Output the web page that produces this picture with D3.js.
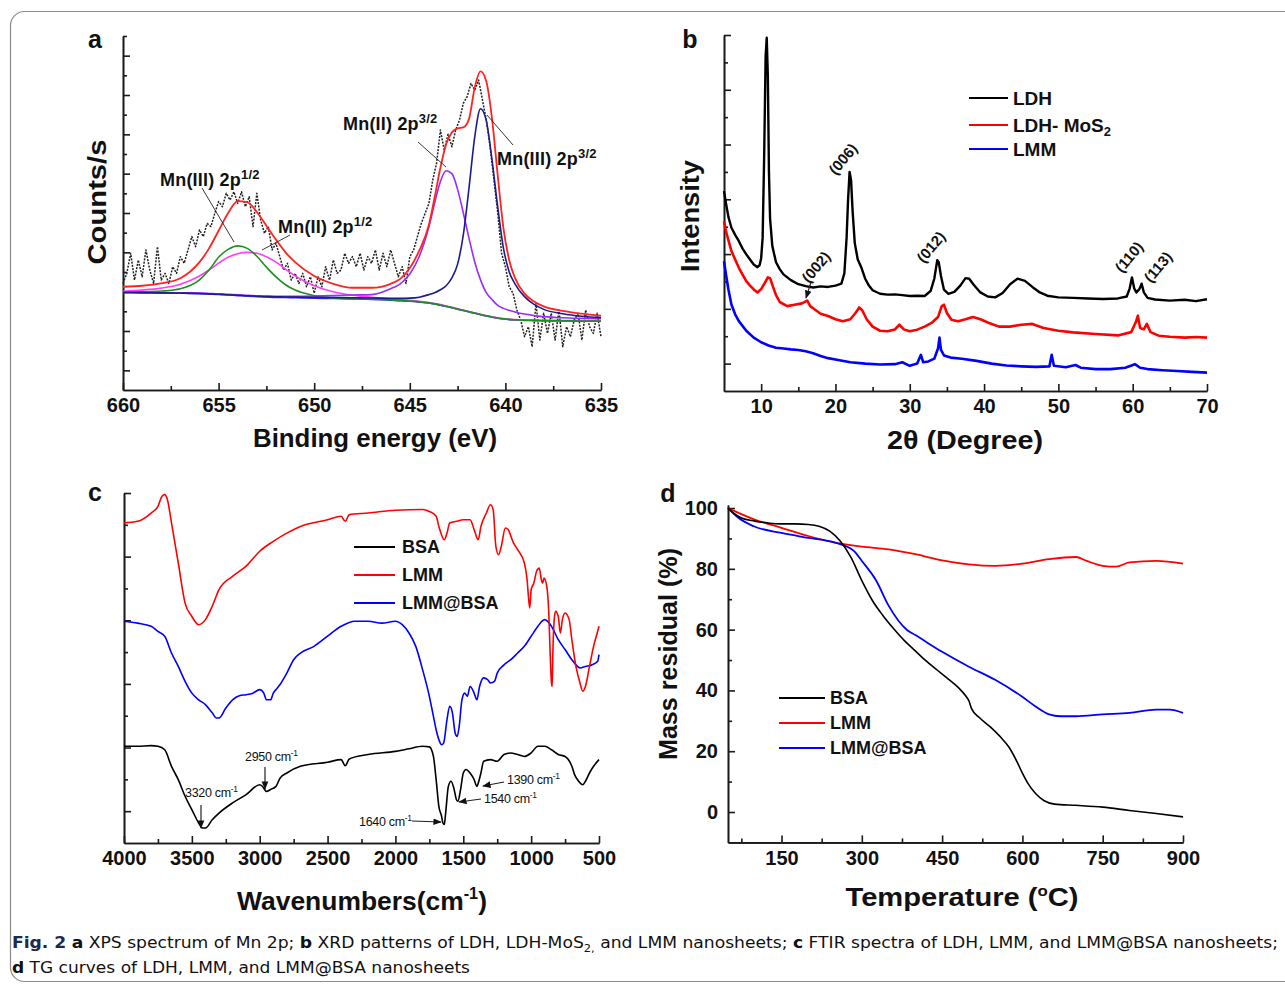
<!DOCTYPE html>
<html>
<head>
<meta charset="utf-8">
<script src="https://cdnjs.cloudflare.com/ajax/libs/d3/7.8.5/d3.min.js"></script>
<style>
  body { margin: 0; background: #fff; }
  svg text { font-family: "Liberation Sans", Arial, Helvetica, sans-serif; fill: #111; }
  .axis path, .axis line { stroke: #1a1a1a; stroke-width: 1.6; }
  .axis text { font-size: 20px; font-weight: bold; fill: #111; font-family: "Liberation Sans", Arial, sans-serif; }
</style>
</head>
<body>
<svg id="fig" width="1285" height="985"></svg>
<script>
// ---------------- data: (a) XPS Mn 2p ----------------
var xpsRawE = [660.0,659.8,659.6,659.4,659.2,659.0,658.8,658.6,658.4,658.2,658.0,657.8,657.6,657.4,657.2,657.0,656.8,656.6,656.4,656.2,
  656.0,655.8,655.6,655.4,655.2,655.0,654.8,654.6,654.4,654.2,654.0,653.8,653.6,653.4,653.2,653.0,652.8,652.6,652.4,652.2,
  652.0,651.8,651.6,651.4,651.2,651.0,650.8,650.6,650.4,650.2,650.0,649.8,649.6,649.4,649.2,649.0,648.8,648.6,648.4,648.2,
  648.0,647.8,647.6,647.4,647.2,647.0,646.8,646.6,646.4,646.2,646.0,645.8,645.6,645.4,645.2,645.0,644.8,644.6,644.4,644.2,
  644.0,643.8,643.6,643.4,643.2,643.0,642.8,642.6,642.4,642.2,642.0,641.8,641.6,641.4,641.2,641.0,640.8,640.6,640.4,640.2,
  640.0,639.8,639.6,639.4,639.2,639.0,638.8,638.6,638.4,638.2,638.0,637.8,637.6,637.4,637.2,637.0,636.8,636.6,636.4,636.2,
  636.0,635.8,635.6,635.4,635.2,635.0];
var xpsRaw = [5.42,5.93,6.95,5.59,6.61,5.76,7.12,6.10,5.42,7.29,5.59,5.93,5.42,6.27,5.93,6.78,6.44,7.12,7.80,7.29,
  8.14,7.80,8.47,8.31,8.98,9.58,9.32,10.0,9.66,10.08,9.49,10.08,9.32,9.83,8.31,10.0,8.64,7.97,8.31,7.12,
  7.46,6.78,6.10,6.44,5.59,5.93,5.42,5.93,5.25,5.76,4.92,5.76,5.25,6.27,5.59,6.61,5.93,6.10,6.95,6.44,
  6.78,6.27,6.95,6.10,6.78,6.44,7.12,6.10,6.95,6.27,7.12,6.44,5.76,6.27,5.42,6.78,7.12,7.80,8.47,8.98,
  9.49,10.68,11.53,13.22,12.2,13.0,12.37,13.22,13.73,14.58,14.92,15.59,15.25,15.76,14.75,13.73,12.37,10.68,9.0,6.95,
  6.27,5.25,4.92,4.07,3.56,2.71,3.22,2.20,4.41,2.54,3.9,2.88,3.9,2.54,4.07,2.20,3.22,2.71,3.56,3.9,
  2.54,4.07,3.22,2.88,3.9,2.71];

// fitted components, all read on one energy grid
var fitE = [660,659,658,657,656,655.5,655,654.5,654,653.5,653,652.5,652,651.5,651,650,649,648,647,646,645.5,645,644.5,644,
  643.7,643.4,643.1,642.8,642.5,642.2,641.9,641.6,641.3,641,640.7,640.4,640.1,639.8,639.5,639,638.5,638,637,636,635];
var fitBg = [4.95,4.94,4.93,4.92,4.9,4.88,4.86,4.83,4.8,4.77,4.75,4.73,4.71,4.7,4.69,4.67,4.65,4.63,4.61,4.57,4.54,4.51,4.47,4.42,
  4.37,4.31,4.25,4.18,4.11,4.04,3.97,3.9,3.83,3.76,3.7,3.65,3.61,3.58,3.56,3.54,3.53,3.52,3.51,3.5,3.5];
var fitMn3Half = [4.97,4.99,5.03,5.15,5.6,6.1,6.75,7.15,7.33,7.2,6.8,6.25,5.75,5.35,5.08,4.8,4.68,4.64,4.62,4.58,4.55,4.52,4.48,4.43,
  4.38,4.32,4.26,4.19,4.12,4.05,3.98,3.91,3.84,3.77,3.71,3.66,3.62,3.59,3.57,3.55,3.54,3.53,3.52,3.51,3.51];
var fitMn2Half = [5.02,5.08,5.18,5.38,5.8,6.1,6.45,6.75,6.93,7.0,6.95,6.78,6.5,6.15,5.8,5.3,5.0,4.82,4.72,4.64,4.6,4.56,4.51,4.45,
  4.4,4.34,4.27,4.2,4.13,4.06,3.99,3.92,3.85,3.78,3.72,3.67,3.63,3.6,3.58,3.56,3.55,3.54,3.53,3.52,3.52];
var fitMn2ThreeHalf = [4.97,4.96,4.95,4.94,4.93,4.91,4.89,4.86,4.84,4.81,4.79,4.78,4.77,4.77,4.77,4.78,4.8,4.83,4.85,5.15,5.4,5.9,6.8,8.3,
  9.5,10.6,11.15,11.0,10.2,9.0,7.7,6.5,5.6,4.95,4.6,4.3,4.15,4.05,3.97,3.86,3.78,3.73,3.67,3.64,3.62];
var fitMn3ThreeHalf = [4.96,4.95,4.94,4.93,4.91,4.89,4.87,4.84,4.82,4.79,4.77,4.75,4.74,4.73,4.72,4.71,4.7,4.69,4.68,4.66,4.66,4.67,4.72,4.85,
  4.95,5.1,5.3,5.7,6.4,7.9,10.3,12.9,14.3,13.7,11.7,9.3,7.2,6.0,5.4,4.75,4.35,4.1,3.88,3.75,3.68];
var fitEnvelope = [5.25,5.3,5.42,5.68,6.5,7.2,8.1,9.0,9.6,9.55,9.05,8.35,7.65,7.0,6.5,5.8,5.4,5.2,5.2,5.4,5.65,6.2,7.1,8.4,
  9.8,11.3,12.5,13.1,13.3,13.35,13.8,15.4,16.2,15.7,13.8,10.9,8.2,6.6,5.7,4.9,4.5,4.25,4.02,3.88,3.78];

// ---------------- data: (b) XRD, [2theta, intensity] ----------------
var xrdLdh = [[5,7.3],[5.3,6.8],[5.6,6.35],[6,5.96],[6.5,5.7],[7,5.47],[7.5,5.2],[8,4.99],[8.5,4.8],[9,4.62],[9.5,4.52],[9.8,4.6],
  [10,4.85],[10.2,5.6],[10.4,8.5],[10.6,12.2],[10.75,12.9],[10.9,11.5],[11.05,8.0],[11.2,6.3],[11.5,5.3],[12,4.7],[12.5,4.45],
  [13,4.26],[14,4.05],[15,3.9],[16,3.83],[17,3.78],[18,3.82],[19,3.8],[20,3.85],[20.8,3.92],[21.2,4.3],[21.5,5.6],[21.7,7.0],
  [21.9,8.0],[22.1,7.7],[22.3,6.6],[22.6,5.4],[23,4.8],[23.5,4.5],[24,4.1],[24.5,3.85],[25,3.68],[26,3.55],[27,3.52],[28,3.53],
  [29,3.5],[30,3.47],[31,3.48],[32,3.47],[32.8,3.65],[33.3,4.1],[33.7,4.78],[33.9,4.7],[34.2,4.2],[34.6,3.7],[35.2,3.55],
  [36,3.62],[36.8,3.85],[37.5,4.12],[38,4.1],[38.6,3.88],[39.5,3.6],[40.5,3.45],[41.5,3.42],[42.5,3.58],[43.5,3.9],[44.5,4.1],
  [45.5,4.02],[46.5,3.8],[47.5,3.6],[48.5,3.48],[50,3.42],[52,3.4],[54,3.38],[56,3.36],[58,3.38],[59.2,3.45],[59.6,3.75],
  [59.9,4.15],[60.2,3.75],[60.5,3.6],[60.9,3.72],[61.2,3.92],[61.5,3.6],[62,3.4],[63,3.34],[65,3.3],[67,3.33],[68.5,3.28],[70,3.35]];
var xrdLdhMos2 = [[5,6.2],[5.3,5.8],[5.6,5.5],[6,5.11],[6.5,4.8],[7,4.5],[7.5,4.25],[8,4.01],[8.5,3.85],[9,3.71],[9.5,3.6],
  [10,3.72],[10.5,3.95],[10.9,4.15],[11.2,4.12],[11.6,3.8],[12,3.5],[12.5,3.25],[13.5,3.1],[14.5,3.15],[15.5,3.2],[16.2,3.3],
  [16.6,3.1],[17,3.02],[18,2.82],[19,2.74],[20,2.62],[21,2.55],[22,2.62],[22.7,2.85],[23.2,3.05],[23.6,2.95],[24.2,2.62],
  [25,2.35],[26,2.2],[27,2.18],[28,2.25],[28.6,2.42],[29.2,2.25],[30,2.18],[31,2.24],[32,2.35],[33,2.5],[33.8,2.7],[34.3,3.1],
  [34.6,3.15],[35,2.85],[35.6,2.6],[36.5,2.55],[37.5,2.62],[38.5,2.7],[39.5,2.62],[40.5,2.5],[42,2.35],[43.5,2.35],[45,2.42],
  [46.5,2.45],[48,2.3],[50,2.2],[52,2.14],[55,2.08],[58,2.03],[59.8,2.15],[60.4,2.5],[60.7,2.75],[61,2.3],[61.5,2.25],
  [61.9,2.45],[62.4,2.15],[63.5,2.02],[65,1.98],[67,1.95],[68.5,1.97],[70,1.95]];
var xrdLmm = [[5,4.74],[5.3,4.2],[5.6,3.7],[6,3.16],[6.5,2.8],[7,2.55],[8,2.2],[9,1.95],[10,1.78],[11,1.66],[12,1.58],[13,1.55],
  [14,1.52],[15,1.5],[16,1.45],[17,1.38],[18,1.28],[19,1.2],[20,1.15],[22,1.05],[24,1.0],[26,0.97],[28,0.98],[29,1.05],[30,0.92],
  [31,1.0],[31.5,1.32],[31.8,1.05],[32.5,1.08],[33.3,1.18],[33.8,1.55],[34,1.95],[34.2,1.5],[34.6,1.3],[35.5,1.22],[37,1.18],
  [39,1.1],[41,1.0],[43,0.93],[45,0.9],[47,0.88],[48.8,0.9],[49.1,1.32],[49.4,0.92],[51,0.87],[52.3,0.95],[53,0.85],[55,0.8],
  [57,0.8],[59,0.85],[60.3,0.98],[61,0.85],[62,0.8],[64,0.76],[66,0.73],[68,0.7],[70,0.67]];

// ---------------- data: (c) FTIR ----------------
var ftirLmmW = [4000,3900,3800,3750,3720,3700,3680,3650,3600,3550,3500,3450,3400,3350,3300,3200,3100,3000,2900,2800,
  2700,2500,2400,2370,2340,2200,2000,1800,1750,1700,1680,1640,1620,1600,1550,1500,1450,1420,1390,1370,
  1330,1300,1280,1260,1240,1220,1190,1170,1130,1100,1050,1030,1020,1010,1000,980,960,940,925,915,
  905,885,870,860,850,845,840,830,820,800,785,770,750,720,700,670,640,620,600,570,540,520,500];
var ftirLmm = [10.06,10.11,10.37,10.58,10.9,10.95,10.79,10.06,8.8,7.54,7.12,6.86,7.02,7.44,7.96,8.38,8.7,9.17,9.48,9.74,
  9.95,10.16,10.27,10.11,10.32,10.37,10.46,10.48,10.42,10.27,9.95,9.53,9.74,10.06,10.11,10.16,10.16,9.85,9.53,9.95,
  10.37,10.63,10.48,9.32,9.06,9.32,9.9,9.85,9.43,9.22,8.8,8.28,7.75,7.39,7.96,8.17,8.54,8.64,8.28,8.17,
  8.33,8.07,7.23,5.97,5.03,4.92,5.97,7.02,7.28,7.12,6.6,7.02,7.23,7.02,6.39,5.55,5.03,4.77,4.92,5.55,6.18,6.5,6.81];
var ftirLmmBsaW = [4000,3900,3800,3750,3700,3650,3600,3550,3500,3450,3400,3350,3320,3300,3250,3200,3150,3100,3050,3000,
  2970,2950,2920,2900,2870,2850,2800,2750,2700,2600,2500,2400,2300,2200,2100,2000,1950,1900,1850,1800,
  1750,1720,1700,1680,1660,1645,1620,1600,1580,1560,1545,1530,1510,1490,1470,1450,1420,1400,1380,1350,
  1320,1300,1270,1250,1200,1150,1100,1050,1000,950,920,900,880,850,800,750,700,670,640,600,550,510,500];
var ftirLmmBsa = [6.97,6.91,6.81,6.65,6.5,5.97,5.55,5.08,4.71,4.5,4.35,4.09,3.93,3.93,4.24,4.5,4.63,4.66,4.71,4.82,
  4.71,4.5,4.5,4.71,4.87,4.98,5.34,5.76,5.97,6.18,6.5,6.81,6.97,6.97,6.91,6.97,6.86,6.6,6.18,5.45,
  4.61,3.98,3.56,3.25,3.09,3.14,3.88,4.3,4.09,3.46,3.35,3.67,4.5,4.71,4.61,4.92,4.71,4.5,4.92,5.19,
  5.13,5.03,5.08,5.34,5.6,5.76,5.97,6.18,6.5,6.81,6.97,7.02,6.97,6.81,6.39,6.08,5.76,5.6,5.5,5.55,5.6,5.71,5.92];
var ftirBsaW = [4000,3900,3800,3750,3700,3650,3600,3550,3500,3450,3420,3400,3350,3300,3200,3100,3000,2980,2950,2920,
  2880,2850,2800,2700,2500,2400,2370,2340,2200,2000,1900,1800,1750,1720,1700,1680,1660,1650,1640,1630,
  1610,1590,1570,1550,1540,1520,1500,1480,1450,1420,1400,1390,1370,1350,1300,1250,1200,1150,1100,1050,
  1000,950,900,850,800,750,700,680,650,620,600,570,540,500];
var ftirBsa = [3.04,3.04,3.06,3.04,2.93,2.41,1.99,1.47,1.05,0.63,0.47,0.47,0.73,0.94,1.26,1.52,1.83,1.78,1.62,1.68,
  1.78,2.04,2.2,2.41,2.54,2.62,2.43,2.64,2.78,2.88,2.96,3.04,3.02,2.72,1.99,1.15,0.84,0.63,0.58,0.94,
  1.78,1.94,1.73,1.36,1.31,1.68,2.2,2.31,2.2,1.99,1.78,1.88,2.2,2.57,2.62,2.57,2.78,2.83,2.78,2.72,
  2.83,3.04,3.04,2.93,2.78,2.72,2.41,2.15,1.94,1.83,1.94,2.2,2.41,2.62];

// ---------------- data: (d) TG ----------------
var tgaBsaT = [50,60,75,100,125,150,175,200,220,240,260,280,300,320,340,360,380,400,420,440,
  460,480,495,500,505,520,540,560,575,590,600,610,625,640,660,700,750,800,850,900];
var tgaBsa = [100,98.4,96.7,95.7,95.1,94.8,94.8,94.6,94.0,92.4,89.1,83.7,76.1,69.5,64.5,60.2,56.3,53.0,49.7,46.8,
  44.0,41.0,38.0,36.6,34.0,31.0,28.0,24.5,21.3,16.5,12.8,9.5,6.0,3.8,2.6,2.2,1.6,0.5,-0.5,-1.6];
var tgaLmmT = [50,100,150,200,250,300,350,400,450,500,550,600,650,700,720,750,775,800,850,900];
var tgaLmm = [100,96.2,93.5,90.8,88.6,87.3,86.4,84.8,82.8,81.5,81.0,81.7,83.2,83.9,82.6,81.0,80.7,82.1,82.6,81.7];
var tgaLmmBsaT = [50,70,98,150,200,250,285,300,327,350,385,400,450,500,549,599,624,650,671,700,750,800,850,875,900];
var tgaLmmBsa = [100,96.7,94.0,91.8,90.2,88.6,85.9,82.6,76.1,67.9,59.8,58.2,52.7,47.8,43.5,38.0,34.8,32.1,31.5,31.5,32.1,32.6,33.7,33.7,32.6];

var svg = d3.select("#fig");

// arrow head for the annotations
svg.append("defs").append("marker")
  .attr("id", "arr").attr("viewBox", "0 0 10 10").attr("refX", 9).attr("refY", 5)
  .attr("markerWidth", 7).attr("markerHeight", 7).attr("orient", "auto")
  .append("path").attr("d", "M0,1 L10,5 L0,9 Z").attr("fill", "#111");

// rounded frame round the figure
svg.append("rect").attr("x", 10.5).attr("y", 11.5).attr("width", 1300).attr("height", 970)
  .attr("rx", 14).attr("fill", "none").attr("stroke", "#8c8c8c").attr("stroke-width", 1.2);

// inward ticks, major and minor, on the left and bottom only
function drawAxes(x, y, o) {
  var base = y.range()[0], left = x.range()[0];
  svg.append("g").attr("class", "axis").attr("transform", "translate(0," + base + ")")
    .call(d3.axisBottom(x).tickValues(o.xMinor).tickSize(-4).tickSizeOuter(0).tickFormat(""));
  svg.append("g").attr("class", "axis").attr("transform", "translate(0," + base + ")")
    .call(d3.axisBottom(x).tickValues(o.xMajor).tickSize(-7).tickSizeOuter(0).tickPadding(8).tickFormat(d3.format("d")));
  svg.append("g").attr("class", "axis").attr("transform", "translate(" + left + ",0)")
    .call(d3.axisLeft(y).tickValues(o.yMinor).tickSize(-4).tickSizeOuter(0).tickFormat(""));
  svg.append("g").attr("class", "axis").attr("transform", "translate(" + left + ",0)")
    .call(d3.axisLeft(y).tickValues(o.yMajor).tickSize(-7).tickSizeOuter(0).tickPadding(10)
      .tickFormat(o.yLabels ? d3.format("d") : ""));
}

function drawLine(x, y, pts, color, width, curve, dash) {
  svg.append("path").datum(pts)
    .attr("fill", "none").attr("stroke", color).attr("stroke-width", width)
    .attr("stroke-linejoin", "round").attr("stroke-dasharray", dash || null)
    .attr("d", d3.line().x(function(d) { return x(d[0]); }).y(function(d) { return y(d[1]); })
      .curve(curve || d3.curveLinear));
}

// text made of pieces, some raised or lowered
function rich(t, parts) {
  var cur = 0;
  parts.forEach(function(p) {
    var off = p.up || 0;
    var s = t.append("tspan").text(p.t);
    if (cur - off !== 0) s.attr("dy", cur - off);
    if (p.size) s.attr("font-size", p.size);
    if (p.bold) s.attr("font-weight", "bold");
    if (p.fill) s.style("fill", p.fill);
    cur = off;
  });
  return t;
}

function title(x, y, txt, len, rotate) {
  var t = svg.append("text")
    .attr("transform", "translate(" + x + "," + (rotate ? 0 : 9) + ")")
    .attr("font-size", 26).attr("font-weight", "bold").attr("text-anchor", "middle")
    .attr("textLength", len).attr("lengthAdjust", "spacingAndGlyphs");
  if (rotate) t.attr("transform", "translate(" + (x + 9) + "," + y + ") rotate(-90)");
  else t.attr("transform", "translate(" + x + "," + (y + 9) + ")");
  if (typeof txt === "string") t.text(txt); else rich(t, txt);
}

function letter(x, y, s) {
  svg.append("text").attr("x", x).attr("y", y).attr("text-anchor", "middle")
    .attr("font-size", 25).attr("font-weight", "bold").text(s);
}

function legend(x0, x1, tx, rows, size) {
  rows.forEach(function(r) {
    svg.append("line").attr("x1", x0).attr("x2", x1).attr("y1", r.y).attr("y2", r.y)
      .attr("stroke", r.color).attr("stroke-width", 2);
    var t = svg.append("text").attr("x", tx).attr("y", r.y + size * 0.36)
      .attr("font-size", size).attr("font-weight", "bold");
    if (typeof r.label === "string") t.text(r.label); else rich(t, r.label);
  });
}

function leader(x1, y1, x2, y2, arrow) {
  svg.append("line").attr("x1", x1).attr("y1", y1).attr("x2", x2).attr("y2", y2)
    .attr("stroke", "#222").attr("stroke-width", arrow ? 1.2 : 0.9)
    .attr("marker-end", arrow ? "url(#arr)" : null);
}

// ======================= panel a =======================
var xA = d3.scaleLinear().domain([660, 635]).range([123, 601]);
var yA = d3.scaleLinear().domain([0, 18]).range([390, 36]);
drawAxes(xA, yA, { xMajor: d3.range(660, 634, -5), xMinor: d3.range(657.5, 635, -5),
  yMajor: d3.range(1, 18, 2), yMinor: d3.range(2, 19, 2), yLabels: false });

drawLine(xA, yA, d3.zip(xpsRawE, xpsRaw), "#222", 1.5, d3.curveLinear, "2,1.3");
var smooth = d3.curveMonotoneX;
drawLine(xA, yA, d3.zip(fitE, fitBg), "#2f2fff", 1.6, smooth);
drawLine(xA, yA, d3.zip(fitE, fitMn2Half), "#ff3cff", 1.6, smooth);
drawLine(xA, yA, d3.zip(fitE, fitMn3Half), "#1f8f1f", 1.6, smooth);
drawLine(xA, yA, d3.zip(fitE, fitMn2ThreeHalf), "#9a2cff", 1.6, smooth);
drawLine(xA, yA, d3.zip(fitE, fitMn3ThreeHalf), "#1c1c8c", 1.6, smooth);
drawLine(xA, yA, d3.zip(fitE, fitEnvelope), "#ff2222", 1.8, smooth);

function mnLabel(x, y, ox, sup) {
  var t = svg.append("text").attr("x", x).attr("y", y).attr("font-size", 18).attr("font-weight", "bold")
    .attr("letter-spacing", 0.2);
  rich(t, [{ t: "Mn" }, { t: "(" + ox + ") 2p" }, { t: sup, up: 7, size: 13 }]);
}
mnLabel(160, 186, "III", "1/2");
mnLabel(278, 233, "II", "1/2");
mnLabel(343, 130, "II", "3/2");
mnLabel(497, 165, "III", "3/2");
leader(202, 188, 234, 242);
leader(290, 235, 262, 250);
leader(418, 142, 446, 167);
leader(487, 115, 513, 145);

letter(95, 48, "a");
title(97, 202, "Counts/s", 125, true);
title(375, 438, "Binding energy (eV)", 244);

// ======================= panel b =======================
var xB = d3.scaleLinear().domain([5, 70]).range([724, 1207]);
var yB = d3.scaleLinear().domain([0, 13]).range([391, 35]);
drawAxes(xB, yB, { xMajor: d3.range(10, 71, 10), xMinor: d3.range(15, 66, 10),
  yMajor: d3.range(1, 14, 2), yMinor: d3.range(2, 13, 2), yLabels: false });

drawLine(xB, yB, xrdLmm, "#0000ff", 2.6);
drawLine(xB, yB, xrdLdhMos2, "#ff0000", 2.6);
drawLine(xB, yB, xrdLdh, "#000000", 2.4);

// reflection labels
[["(002)", 816, 267], ["(006)", 843, 159], ["(012)", 931, 247], ["(110)", 1129, 257], ["(113)", 1158, 267]]
  .forEach(function(h) {
    svg.append("text").attr("transform", "translate(" + h[1] + "," + h[2] + ") rotate(-50)")
      .attr("text-anchor", "middle").attr("dy", "0.35em").attr("font-size", 15).attr("font-weight", "bold")
      .text(h[0]);
  });
leader(811, 282, 806, 298, true);

legend(969, 1008, 1013, [
  { y: 98, color: "#000000", label: "LDH" },
  { y: 125, color: "#ff0000", label: [{ t: "LDH- MoS" }, { t: "2", up: -4, size: 13 }] },
  { y: 149, color: "#0000ff", label: "LMM" }
], 19);

letter(690, 48, "b");
title(690, 216, "Intensity", 112, true);
title(965, 440, "2θ (Degree)", 156);

// ======================= panel c =======================
var xC = d3.scaleLinear().domain([4000, 500]).range([124, 599]);
var yC = d3.scaleLinear().domain([0, 11]).range([843, 493]);
drawAxes(xC, yC, { xMajor: d3.range(4000, 499, -500), xMinor: d3.range(3750, 600, -500),
  yMajor: d3.range(1, 12, 2), yMinor: d3.range(2, 11, 2), yLabels: false });

drawLine(xC, yC, d3.zip(ftirBsaW, ftirBsa), "#000000", 1.6, smooth);
drawLine(xC, yC, d3.zip(ftirLmmBsaW, ftirLmmBsa), "#0000ff", 1.6, smooth);
drawLine(xC, yC, d3.zip(ftirLmmW, ftirLmm), "#ff0000", 1.6, smooth);

function peak(x, y, num) {
  var t = svg.append("text").attr("x", x).attr("y", y).attr("font-size", 12.5).attr("letter-spacing", -0.3);
  rich(t, [{ t: num + " cm" }, { t: "-1", up: 5, size: 8.5 }]);
}
peak(185, 797, "3320");
peak(245, 761, "2950");
peak(359, 826, "1640");
peak(484, 803, "1540");
peak(507, 784, "1390");
leader(201, 805, 201, 828, true);
leader(265, 767, 265, 789, true);
leader(412, 821, 441, 822, true);
leader(481, 799, 459, 802, true);
leader(504, 782, 483, 786, true);

legend(354, 395, 402, [
  { y: 547, color: "#000000", label: "BSA" },
  { y: 575, color: "#ff0000", label: "LMM" },
  { y: 603, color: "#0000ff", label: "LMM@BSA" }
], 18);

letter(95, 501, "c");
title(362, 901, [{ t: "Wavenumbers(cm" }, { t: "-1", up: 11, size: 16 }, { t: ")" }], 250);

// ======================= panel d =======================
var xD = d3.scaleLinear().domain([50, 900]).range([728, 1183]);
var yD = d3.scaleLinear().domain([-10, 101]).range([842.4, 505]);
drawAxes(xD, yD, { xMajor: d3.range(150, 901, 150), xMinor: d3.range(75, 900, 150),
  yMajor: d3.range(0, 101, 20), yMinor: d3.range(10, 100, 20), yLabels: true });

drawLine(xD, yD, d3.zip(tgaLmmT, tgaLmm), "#ff0000", 1.8, smooth);
drawLine(xD, yD, d3.zip(tgaLmmBsaT, tgaLmmBsa), "#0000ff", 1.8, smooth);
drawLine(xD, yD, d3.zip(tgaBsaT, tgaBsa), "#000000", 1.6, smooth);

legend(779, 825, 830, [
  { y: 698, color: "#000000", label: "BSA" },
  { y: 723, color: "#ff0000", label: "LMM" },
  { y: 748, color: "#0000ff", label: "LMM@BSA" }
], 18);

letter(668, 502, "d");
title(668, 654, "Mass residual (%)", 212, true);
title(962, 897, [{ t: "Temperature (" }, { t: "o", up: 10, size: 15 }, { t: "C)" }], 233);

// ======================= caption =======================
var capFont = '"Liberation Sans Narrow", "DejaVu Sans Condensed", "Liberation Sans", sans-serif';
var cap1 = svg.append("text").attr("x", 12).attr("y", 948).attr("font-size", 16.5)
  .style("font-family", capFont).attr("textLength", 1266).attr("lengthAdjust", "spacingAndGlyphs");
rich(cap1, [
  { t: "Fig. 2", bold: true, fill: "#1d2a4d" }, { t: "  " }, { t: "a", bold: true },
  { t: " XPS spectrum of Mn 2p; " }, { t: "b", bold: true },
  { t: " XRD patterns of LDH, LDH-MoS" }, { t: "2,", up: -4, size: 11 },
  { t: " and LMM nanosheets; " }, { t: "c", bold: true },
  { t: " FTIR spectra of LDH, LMM, and LMM@BSA nanosheets;" }
]);
var cap2 = svg.append("text").attr("x", 12).attr("y", 973).attr("font-size", 16.5)
  .style("font-family", capFont).attr("textLength", 458).attr("lengthAdjust", "spacingAndGlyphs");
rich(cap2, [{ t: "d", bold: true }, { t: " TG curves of LDH, LMM, and LMM@BSA nanosheets" }]);
</script>
</body>
</html>
